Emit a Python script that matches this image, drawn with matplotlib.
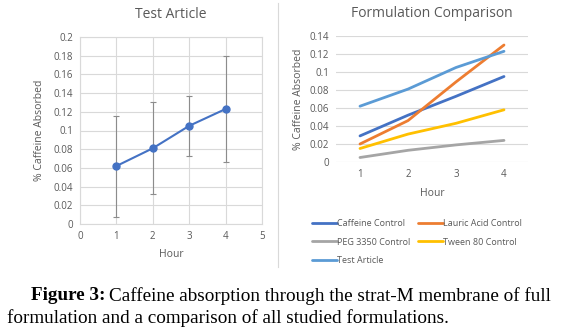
import numpy as np
import matplotlib.pyplot as plt
from matplotlib.lines import Line2D

# data
hours = [1, 2, 3, 4]
test_article = [0.062, 0.081, 0.105, 0.123]
test_err = [0.054, 0.049, 0.032, 0.057]

caffeine_ctrl = [0.029, 0.052, 0.073, 0.095]
lauric_ctrl = [0.020, 0.046, 0.089, 0.130]
peg_ctrl = [0.005, 0.013, 0.019, 0.024]
tween_ctrl = [0.015, 0.031, 0.043, 0.058]

series_names = ["Caffeine Control", "Lauric Acid Control", "PEG 3350 Control",
                "Tween 80 Control", "Test Article"]
series_colors = ["#4472C4", "#ED7D31", "#A5A5A5", "#FFC000", "#5B9BD5"]

W, H = 578, 336
txt = "#595959"
grid = "#D9D9D9"
font = "Open Sans"
serif = "Liberation Serif"

fig = plt.figure(figsize=(W / 100, H / 100), dpi=100)

def box(l, t, r, b):
    return [l / W, 1 - b / H, (r - l) / W, (b - t) / H]

# left panel
ax1 = fig.add_axes(box(80, 37, 262, 224))
ax1.errorbar(hours, test_article, yerr=test_err, color="#4472C4", lw=1.5,
             marker="o", ms=5, ecolor="#8C8C8C", elinewidth=0.8, capsize=2.5,
             capthick=0.8, zorder=3)
ax1.set_xlim(0, 5)
ax1.set_ylim(0, 0.2)
ax1.set_xticks(range(6))
ax1.set_yticks(np.arange(0, 0.201, 0.02))
ax1.set_yticklabels(["0", "0.02", "0.04", "0.06", "0.08", "0.1", "0.12",
                     "0.14", "0.16", "0.18", "0.2"])
ax1.grid(True, color=grid, lw=0.8)
for s in ax1.spines.values():
    s.set_color(grid)
ax1.tick_params(length=0, labelsize=7, labelcolor=txt, pad=5)
for lab in ax1.get_xticklabels() + ax1.get_yticklabels():
    lab.set_family(font)
ax1.set_xlabel("Hour", fontsize=7.5, color=txt, family=font, labelpad=5)
ax1.set_ylabel("% Caffeine Absorbed", fontsize=7.5, color=txt, family=font, labelpad=6)
ax1.set_title("Test Article", fontsize=10, color=txt, family=font, pad=14)

# right panel
ax2 = fig.add_axes(box(336, 36, 528, 162))
all_series = [caffeine_ctrl, lauric_ctrl, peg_ctrl, tween_ctrl, test_article]
handles = []
for name, vals, c in zip(series_names, all_series, series_colors):
    h, = ax2.plot(hours, vals, color=c, lw=2, label=name, solid_capstyle="round")
    handles.append(h)
ax2.set_xlim(0.5, 4.5)
ax2.set_ylim(0, 0.14)
ax2.set_xticks(hours)
ax2.set_yticks(np.arange(0, 0.141, 0.02))
ax2.set_yticklabels(["0", "0.02", "0.04", "0.06", "0.08", "0.1", "0.12", "0.14"])
ax2.yaxis.grid(True, color=grid, lw=0.8)
ax2.set_axisbelow(True)
for s in ax2.spines.values():
    s.set_visible(False)
ax2.tick_params(length=0, labelsize=7, labelcolor=txt, pad=5)
for lab in ax2.get_xticklabels() + ax2.get_yticklabels():
    lab.set_family(font)
ax2.set_xlabel("Hour", fontsize=7.5, color=txt, family=font, labelpad=6)
ax2.set_ylabel("% Caffeine Absorbed", fontsize=7.5, color=txt, family=font, labelpad=4)
ax2.set_title("Formulation Comparison", fontsize=10, color=txt, family=font, pad=14)

order = [0, 2, 4, 1, 3]
leg = fig.legend([handles[i] for i in order], [series_names[i] for i in order],
                 ncol=2, loc="upper left", bbox_to_anchor=(304 / W, 1 - 211 / H),
                 frameon=False, handlelength=2.7, handletextpad=0.05,
                 columnspacing=0.9, labelspacing=1.05,
                 prop={"family": font, "size": 6.5})
for t in leg.get_texts():
    t.set_color(txt)

# separator between panels
fig.add_artist(Line2D([278 / W, 278 / W], [1 - 3 / H, 1 - 267 / H],
                      color=grid, lw=0.8))

# caption
fig.text(31 / W, 1 - 296 / H, "Figure 3:", fontsize=13.75, family=serif,
         weight="bold", va="center")
fig.text(109 / W, 1 - 296 / H,
         "Caffeine absorption through the strat-M membrane of full",
         fontsize=13.75, family=serif, va="center")
fig.text(7 / W, 1 - 318 / H,
         "formulation and a comparison of all studied formulations.",
         fontsize=13.75, family=serif, va="center")

fig.savefig("out.png", dpi=100, facecolor="white")
